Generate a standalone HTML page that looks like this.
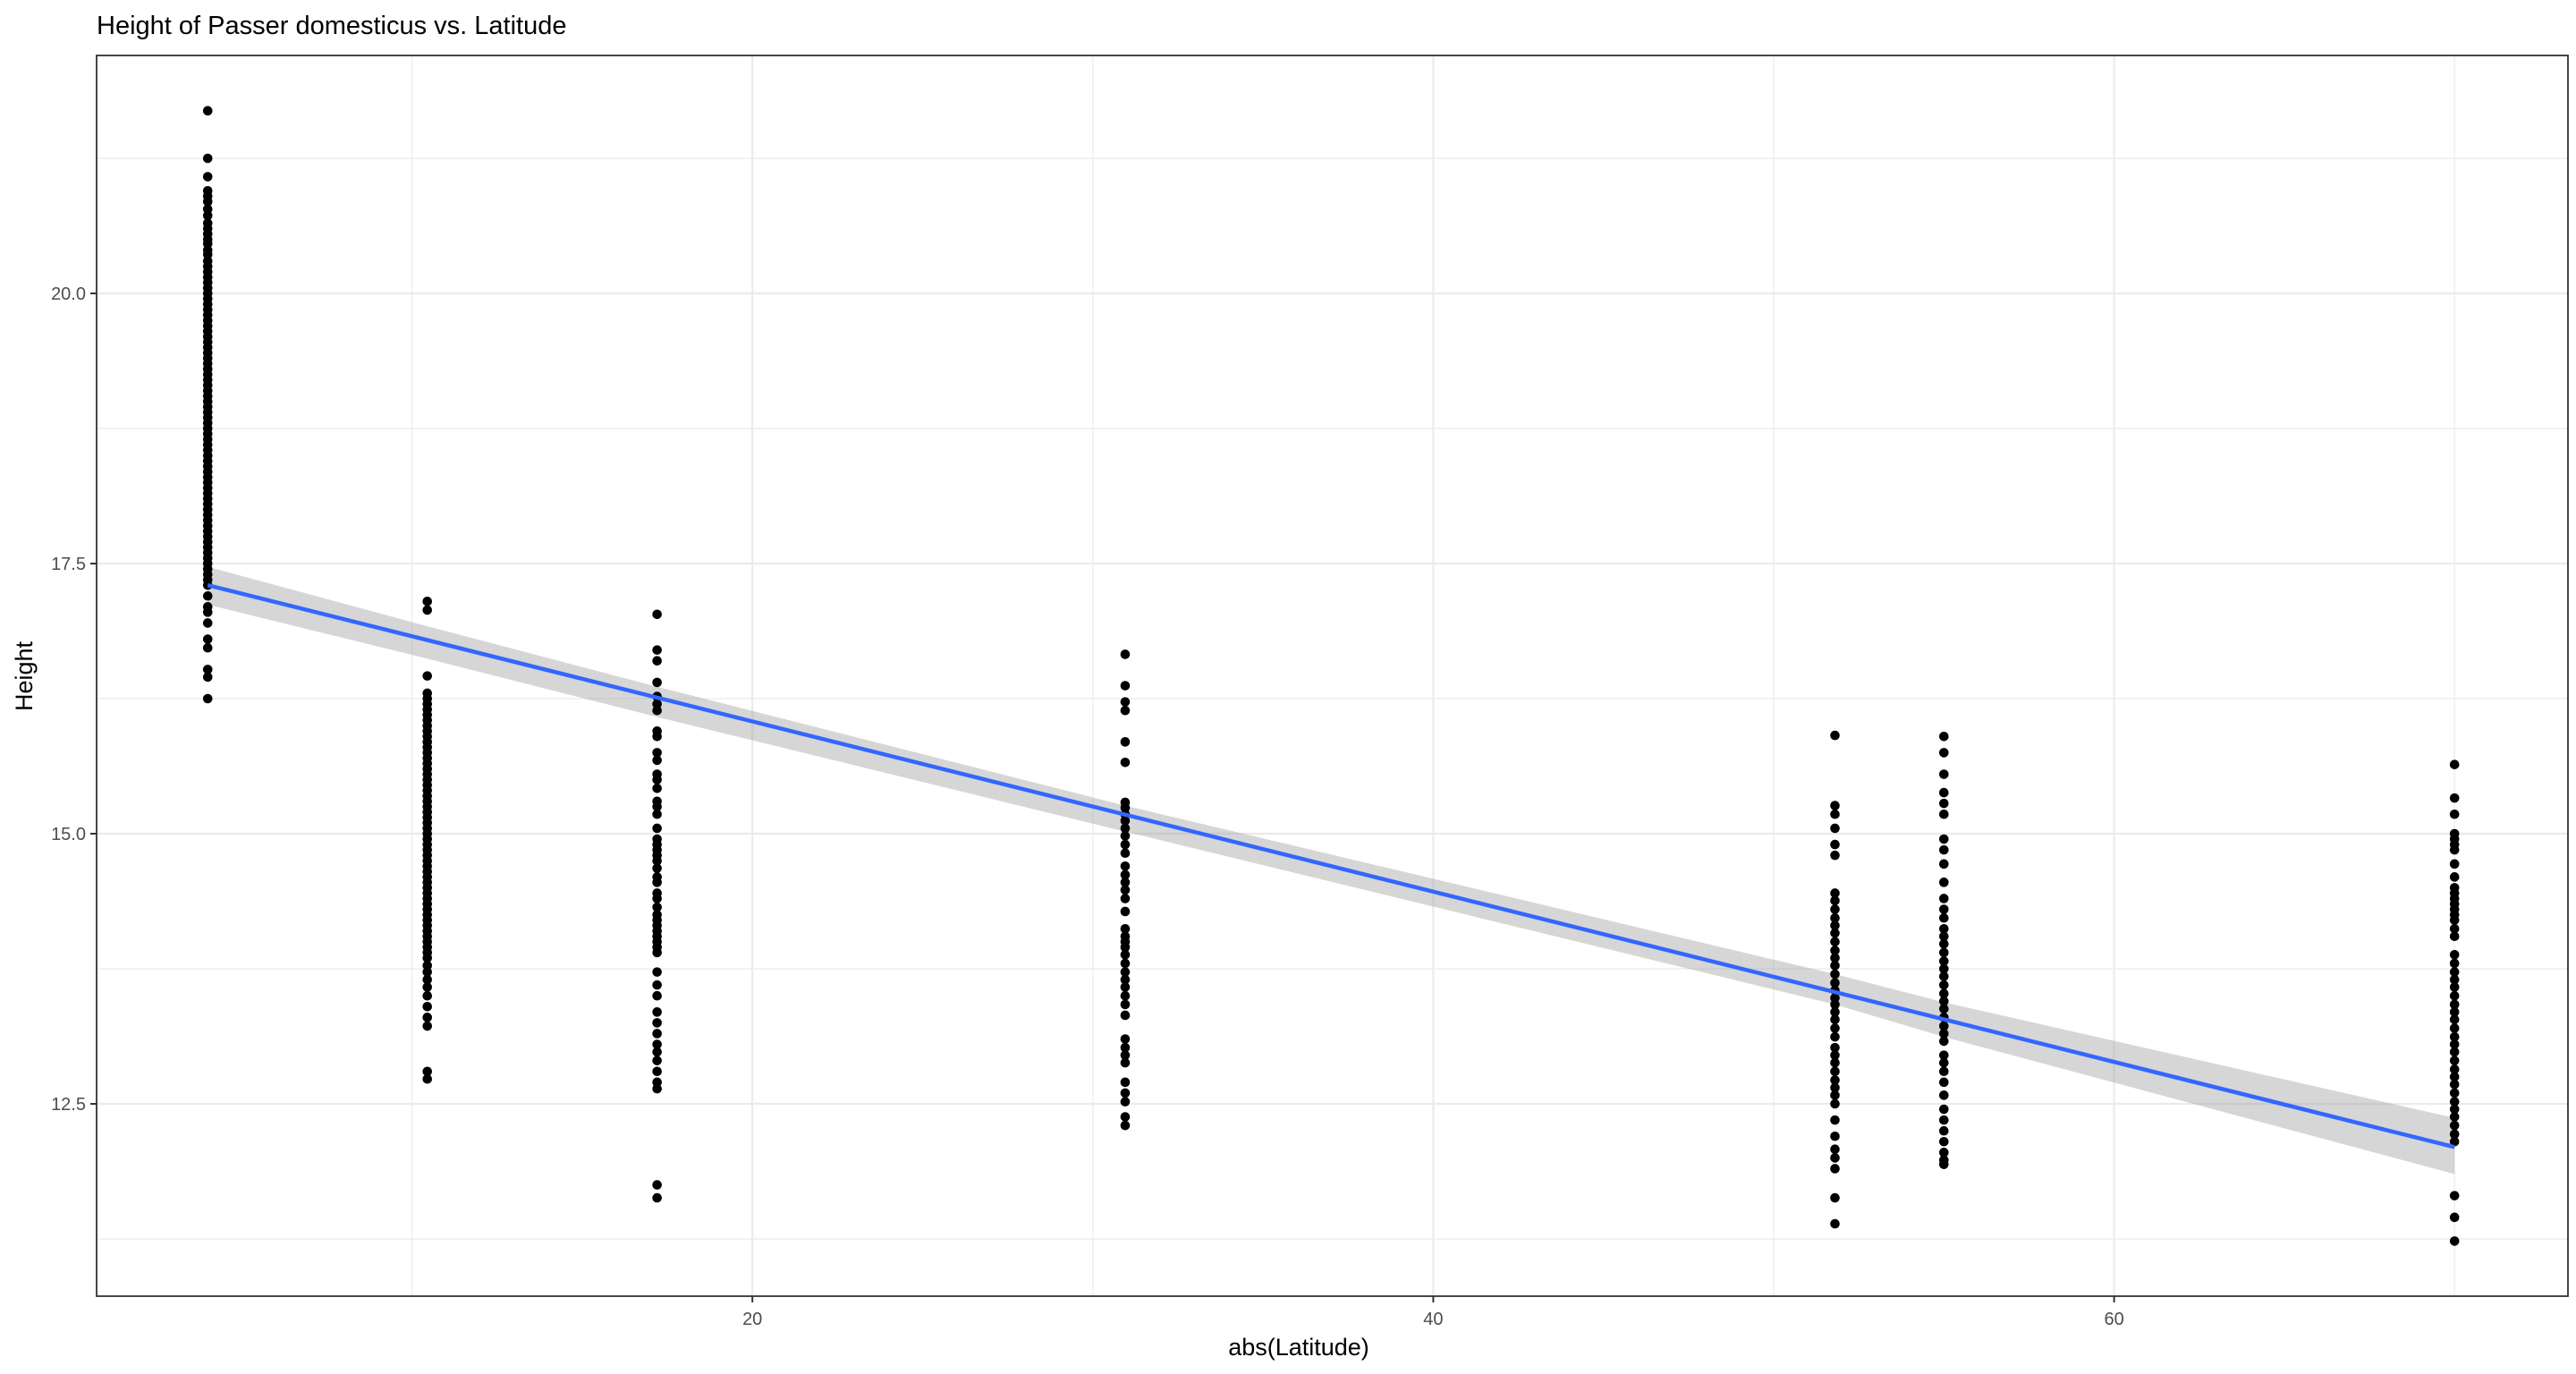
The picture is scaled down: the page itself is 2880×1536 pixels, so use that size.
<!DOCTYPE html>
<html><head><meta charset="utf-8"><style>
html,body{margin:0;padding:0;background:#fff;}
svg{display:block;font-family:"Liberation Sans",sans-serif;}
</style></head><body>
<svg id="chart" width="2880" height="1536" viewBox="0 0 2880 1536" xmlns="http://www.w3.org/2000/svg">
<rect width="2880" height="1536" fill="#fff"/>
<text x="108" y="38" font-size="29" fill="#000">Height of Passer domesticus vs. Latitude</text>
<g id="grid"></g>
<g id="band"></g>
<g id="points"></g>
<g id="fit"></g>
<rect x="108" y="62" width="2763" height="1387" fill="none" stroke="#333" stroke-width="1.8"/>
<g id="axes"></g>
<text x="1452" y="1515" font-size="27" text-anchor="middle" fill="#000">abs(Latitude)</text>
<text transform="translate(36,756) rotate(-90)" font-size="27" text-anchor="middle" fill="#000">Height</text>
</svg>
<script>
const latitudes = [4, 10.45, 17.2, 30.95, 51.8, 55, 70];
const col1 = [21.69,21.25,21.08,20.95,20.9,20.85,20.78,20.72,20.65,20.6,20.55,20.5,20.46,20.4,20.36,20.3,20.25,20.2,20.15,20.1,20.05,20.0,19.95,19.9,19.85,19.8,19.75,19.7,19.65,19.6,19.55,19.5,19.45,19.4,19.35,19.3,19.25,19.2,19.15,19.1,19.05,19.0,18.95,18.9,18.85,18.8,18.75,18.7,18.65,18.6,18.55,18.5,18.45,18.4,18.35,18.3,18.25,18.2,18.15,18.1,18.05,18.0,17.95,17.9,17.85,17.8,17.75,17.7,17.65,17.6,17.55,17.5,17.45,17.4,17.35,17.3,17.2,17.1,17.05,16.95,16.8,16.72,16.52,16.45,16.25];
const col2 = [17.15,17.07,16.46,16.3,16.25,16.2,16.15,16.1,16.05,16.0,15.95,15.9,15.85,15.8,15.75,15.7,15.65,15.6,15.55,15.5,15.45,15.4,15.35,15.3,15.25,15.2,15.15,15.1,15.05,15.0,14.95,14.9,14.85,14.8,14.75,14.7,14.65,14.6,14.55,14.5,14.45,14.4,14.35,14.3,14.25,14.2,14.15,14.1,14.05,14.0,13.95,13.9,13.85,13.78,13.72,13.65,13.58,13.5,13.4,13.3,13.22,12.8,12.73];
const col3 = [17.03,16.7,16.6,16.4,16.27,16.2,16.14,15.95,15.9,15.75,15.68,15.55,15.5,15.42,15.3,15.25,15.18,15.05,14.95,14.9,14.85,14.8,14.75,14.68,14.6,14.55,14.45,14.4,14.32,14.25,14.2,14.15,14.1,14.05,14.0,13.95,13.9,13.72,13.6,13.5,13.35,13.25,13.15,13.05,12.98,12.9,12.8,12.7,12.64,11.75,11.63];
const col4 = [16.66,16.37,16.22,16.14,15.85,15.66,15.29,15.24,15.18,15.12,15.05,14.98,14.9,14.82,14.7,14.62,14.55,14.48,14.4,14.28,14.12,14.05,14.0,13.95,13.88,13.8,13.72,13.65,13.58,13.5,13.42,13.32,13.1,13.02,12.95,12.88,12.7,12.6,12.52,12.38,12.3];
const col5 = [15.91,15.26,15.18,15.05,14.9,14.8,14.45,14.38,14.3,14.22,14.15,14.08,14.0,13.92,13.85,13.78,13.7,13.62,13.55,13.48,13.42,13.35,13.28,13.2,13.12,13.02,12.95,12.88,12.8,12.72,12.65,12.58,12.5,12.35,12.2,12.08,12.0,11.9,11.63,11.39];
const col6 = [15.9,15.75,15.55,15.38,15.28,15.18,14.95,14.85,14.72,14.55,14.4,14.3,14.22,14.12,14.05,13.98,13.9,13.82,13.75,13.68,13.6,13.52,13.45,13.38,13.3,13.22,13.15,13.08,12.95,12.88,12.8,12.7,12.58,12.45,12.35,12.25,12.15,12.05,11.98,11.94];
const col7 = [15.64,15.33,15.18,15.0,14.95,14.9,14.85,14.72,14.6,14.5,14.45,14.4,14.35,14.3,14.25,14.2,14.12,14.05,13.88,13.8,13.72,13.65,13.58,13.5,13.42,13.35,13.28,13.2,13.12,13.05,12.98,12.9,12.82,12.75,12.68,12.6,12.52,12.45,12.38,12.3,12.22,12.15,11.65,11.45,11.23];
const columns = [col1, col2, col3, col4, col5, col6, col7];
const fitX = [4, 70];
const fitY = [17.3, 12.1];
const bandLower = [17.12, 16.62, 16.08, 15.02, 13.42, 13.12, 11.85];
const bandUpper = [17.47, 16.92, 16.36, 15.26, 13.7, 13.44, 12.37];
const xTicks = [20, 40, 60];
const xTickLabels = ["20", "40", "60"];
const xMinor = [10, 30, 50, 70];
const yTicks = [12.5, 15, 17.5, 20];
const yTickLabels = ["12.5", "15.0", "17.5", "20.0"];
const yMinor = [11.25, 13.75, 16.25, 18.75, 21.25];

const L=108,R=2871,T=62,B=1449;
const xs = v => 80 + (v)*38.06;
const ys = v => 328 - (v-20)*120.8;
const NS="http://www.w3.org/2000/svg";
function mk(tag, attrs, parent){const e=document.createElementNS(NS,tag);for(const k in attrs)e.setAttribute(k,attrs[k]);parent.appendChild(e);return e;}
const grid=document.getElementById('grid');
xMinor.forEach(v=>{const l=mk('line',{x1:xs(v),x2:xs(v),y1:T,y2:B,stroke:'#ebebeb','stroke-width':1.2},grid);

});
yMinor.forEach(v=>{const l=mk('line',{x1:L,x2:R,y1:ys(v),y2:ys(v),stroke:'#ebebeb','stroke-width':1.2},grid);

});
xTicks.forEach(v=>{const l=mk('line',{x1:xs(v),x2:xs(v),y1:T,y2:B,stroke:'#ebebeb','stroke-width':2.2},grid);

});
yTicks.forEach(v=>{const l=mk('line',{x1:L,x2:R,y1:ys(v),y2:ys(v),stroke:'#ebebeb','stroke-width':2.2},grid);

});

const band=document.getElementById('band');
let d='M'+latitudes.map((x,i)=>xs(x)+','+ys(bandUpper[i])).join('L');
d+='L'+latitudes.slice().reverse().map((x,i)=>xs(x)+','+ys(bandLower[latitudes.length-1-i])).join('L')+'Z';
const bp=mk('path',{d:d,fill:'#999','fill-opacity':0.4},band);



const pts=document.getElementById('points');
columns.forEach((col,ci)=>{col.forEach(v=>{const c=mk('circle',{cx:xs(latitudes[ci]),cy:ys(v),r:5.3,fill:'#000'},pts);

});});

const fit=document.getElementById('fit');
const fl=mk('line',{x1:xs(fitX[0]),y1:ys(fitY[0]),x2:xs(fitX[1]),y2:ys(fitY[1]),stroke:'#3366FF','stroke-width':4.5},fit);



const ax=document.getElementById('axes');
xTicks.forEach((v,i)=>{const t=mk('line',{x1:xs(v),x2:xs(v),y1:B,y2:B+7,stroke:'#333','stroke-width':2},ax);


const lb=mk('text',{x:xs(v),y:B+32,'font-size':20,'text-anchor':'middle',fill:'#4d4d4d'},ax);lb.textContent=xTickLabels[i];

});
yTicks.forEach((v,i)=>{const t=mk('line',{x1:L-7,x2:L,y1:ys(v),y2:ys(v),stroke:'#333','stroke-width':2},ax);


const lb=mk('text',{x:L-12,y:ys(v)+7,'font-size':20,'text-anchor':'end',fill:'#4d4d4d'},ax);lb.textContent=yTickLabels[i];

});
</script>
</body></html>
